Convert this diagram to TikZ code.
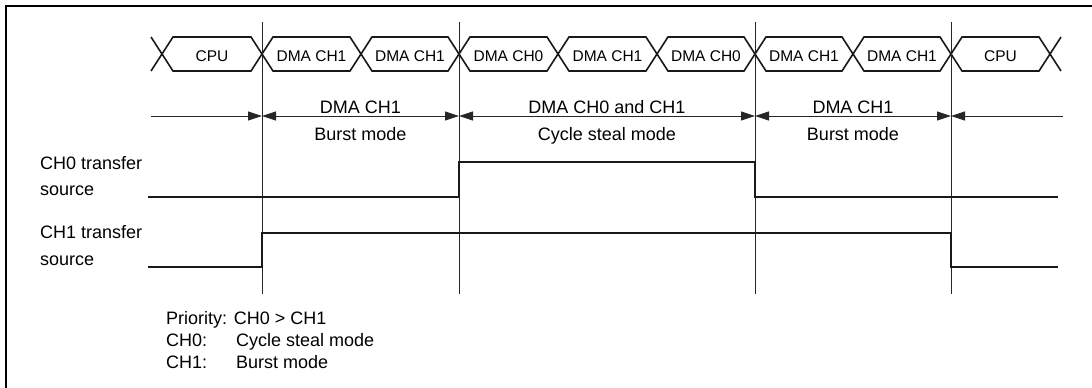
\documentclass[tikz,border=0pt]{standalone}
\usepackage{fontspec}
\setmainfont{Liberation Sans}
\usetikzlibrary{arrows.meta,positioning,calc}

\begin{document}
\begin{tikzpicture}[
  x=1pt, y=-1pt,
  busline/.style={line width=1.6pt, draw=black!90},
  signal/.style={line width=2pt, draw=black!90},
  marker/.style={line width=0.8pt, draw=black!85},
  span/.style={{Triangle[length=14pt,width=9pt]}-{Triangle[length=14pt,width=9pt]}, line width=0.8pt},
  buslbl/.style={anchor=base, inner sep=0pt, font=\fontsize{15.5}{18}\selectfont},
  txt/.style={anchor=base, inner sep=0pt, font=\fontsize{18}{22}\selectfont},
  lefttxt/.style={txt, anchor=base west}
]
  \useasboundingbox (0,0) rectangle (1092,388);
  \draw[line width=2pt] (6,388) -- (6,6) -- (1092,6);

  % bus cycles
  \draw[busline] (151,37) -- (162,54) -- (151,71);
  \draw[busline] (1061,37) -- (1050,54) -- (1061,71);
  \foreach \a/\b/\lbl [count=\i] in {162/262/CPU, 262/361/DMA CH1, 361/459/DMA CH1,
      459/558/DMA CH0, 558/657/DMA CH1, 657/755/DMA CH0,
      755/853/DMA CH1, 853/951/DMA CH1, 951/1050/CPU} {
    \draw[busline] (\a,54) -- ({\a+11},37) -- ({\b-11},37) -- (\b,54)
      -- ({\b-11},71) -- ({\a+11},71) -- cycle;
    \node[buslbl] (bus\i) at ({(\a+\b)/2},61) {\lbl};
  }

  % mode boundaries
  \foreach \x [count=\i] in {262,459,755,951} {
    \draw[marker] (\x,22) -- (\x,294);
    \coordinate (m\i) at (\x,116);
  }
  \coordinate (lft) at (151,116);
  \coordinate (rgt) at (1063,116);

  \draw[marker, -{Triangle[length=14pt,width=9pt]}] (lft) -- (m1);
  \draw[marker, span] (m1) -- (m2);
  \draw[marker, span] (m2) -- (m3);
  \draw[marker, span] (m3) -- (m4);
  \draw[marker, {Triangle[length=14pt,width=9pt]}-] (m4) -- (rgt);

  \node[txt] (mode1) at ($(m1)!0.5!(m2)+(0,-3)$) {DMA CH1};
  \node[txt] (mode1b) at ($(m1)!0.5!(m2)+(0,24)$) {Burst mode};
  \node[txt] (mode2) at ($(m2)!0.5!(m3)+(0,-3)$) {DMA CH0 and CH1};
  \node[txt] (mode2b) at ($(m2)!0.5!(m3)+(0,24)$) {Cycle steal mode};
  \node[txt] (mode3) at ($(m3)!0.5!(m4)+(0,-3)$) {DMA CH1};
  \node[txt] (mode3b) at ($(m3)!0.5!(m4)+(0,24)$) {Burst mode};

  % transfer sources
  \node[lefttxt] (ch0a) at (40,169) {CH0 transfer};
  \node[lefttxt] (ch0b) at (40,195) {source};
  \node[lefttxt] (ch1a) at (40,238) {CH1 transfer};
  \node[lefttxt] (ch1b) at (40,265) {source};

  \draw[signal] (148,197) -- (459,197) -- (459,162) -- (755,162) -- (755,197) -- (1058,197);
  \draw[signal] (148,267) -- (262,267) -- (262,233) -- (951,233) -- (951,267) -- (1058,267);

  % legend
  \node[lefttxt] (prio) at (166,324) {Priority: CH0 > CH1};
  \node[lefttxt] (leg0) at (166,346) {CH0:};
  \node[lefttxt] (leg0m) at (236,346) {Cycle steal mode};
  \node[lefttxt] (leg1) at (166,368) {CH1:};
  \node[lefttxt] (leg1m) at (236,368) {Burst mode};
\end{tikzpicture}
\end{document}
